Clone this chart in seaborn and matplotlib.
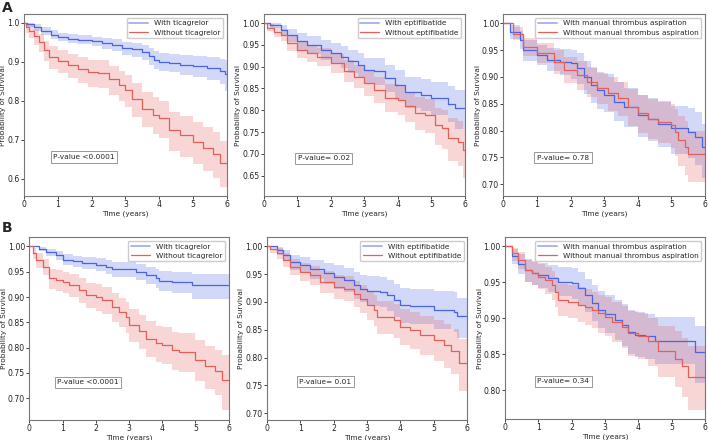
import seaborn as sns
import matplotlib.pyplot as plt
import pandas as pd
from matplotlib.lines import Line2D

# ------------------------------------------------------------ #
# Kaplan-Meier step curves
# each row: time (years), survival, lower CI, upper CI
# ------------------------------------------------------------ #

a1_with = [
    [0.0, 1.000, 1.000, 1.000], [0.1, 0.997, 0.990, 1.000], [0.3, 0.990, 0.980, 0.997],
    [0.5, 0.980, 0.969, 0.990], [0.8, 0.970, 0.959, 0.981], [1.0, 0.964, 0.953, 0.975],
    [1.3, 0.960, 0.948, 0.971], [1.6, 0.957, 0.945, 0.968], [2.0, 0.953, 0.940, 0.965],
    [2.3, 0.948, 0.934, 0.961], [2.6, 0.944, 0.929, 0.958], [2.9, 0.935, 0.918, 0.951],
    [3.2, 0.932, 0.914, 0.949], [3.5, 0.926, 0.906, 0.944], [3.7, 0.915, 0.893, 0.935],
    [3.85, 0.905, 0.882, 0.927], [4.0, 0.901, 0.878, 0.924], [4.3, 0.898, 0.873, 0.921],
    [4.6, 0.893, 0.866, 0.918], [5.0, 0.889, 0.861, 0.915], [5.4, 0.884, 0.853, 0.912],
    [5.8, 0.878, 0.843, 0.908], [5.95, 0.870, 0.825, 0.905], [6.0, 0.870, 0.825, 0.905],
]
a1_without = [
    [0.0, 1.000, 1.000, 1.000], [0.05, 0.990, 0.975, 1.000], [0.15, 0.980, 0.962, 0.995],
    [0.3, 0.966, 0.944, 0.984], [0.45, 0.950, 0.925, 0.972], [0.6, 0.930, 0.902, 0.955],
    [0.75, 0.913, 0.882, 0.940], [1.0, 0.903, 0.871, 0.930], [1.3, 0.892, 0.858, 0.921],
    [1.6, 0.882, 0.846, 0.912], [1.9, 0.874, 0.837, 0.906], [2.2, 0.872, 0.834, 0.904],
    [2.5, 0.856, 0.816, 0.890], [2.8, 0.842, 0.800, 0.878], [3.0, 0.828, 0.785, 0.866],
    [3.2, 0.805, 0.760, 0.845], [3.5, 0.780, 0.733, 0.822], [3.8, 0.765, 0.716, 0.809],
    [4.0, 0.755, 0.705, 0.800], [4.3, 0.725, 0.672, 0.772], [4.6, 0.712, 0.657, 0.761],
    [5.0, 0.695, 0.638, 0.746], [5.3, 0.680, 0.620, 0.733], [5.6, 0.665, 0.603, 0.720],
    [5.8, 0.641, 0.578, 0.698], [6.0, 0.641, 0.578, 0.698],
]
a2_with = [
    [0.0, 1.000, 1.000, 1.000], [0.2, 0.995, 0.988, 1.000], [0.5, 0.985, 0.972, 0.995],
    [0.7, 0.973, 0.957, 0.987], [1.0, 0.958, 0.939, 0.978], [1.3, 0.950, 0.929, 0.970],
    [1.7, 0.939, 0.916, 0.961], [2.0, 0.931, 0.907, 0.954], [2.3, 0.923, 0.898, 0.948],
    [2.5, 0.912, 0.885, 0.939], [2.8, 0.904, 0.876, 0.932], [3.0, 0.892, 0.862, 0.921],
    [3.3, 0.890, 0.859, 0.919], [3.6, 0.874, 0.842, 0.905], [3.9, 0.858, 0.824, 0.892],
    [4.2, 0.841, 0.806, 0.877], [4.7, 0.835, 0.798, 0.872], [5.0, 0.827, 0.789, 0.865],
    [5.5, 0.815, 0.774, 0.856], [5.7, 0.805, 0.758, 0.847], [6.0, 0.805, 0.758, 0.847],
]
a2_without = [
    [0.0, 1.000, 1.000, 1.000], [0.1, 0.990, 0.982, 0.998], [0.3, 0.980, 0.969, 0.991],
    [0.5, 0.973, 0.958, 0.986], [0.7, 0.954, 0.937, 0.970], [1.0, 0.939, 0.920, 0.956],
    [1.3, 0.931, 0.911, 0.949], [1.6, 0.923, 0.901, 0.943], [2.0, 0.908, 0.885, 0.930],
    [2.4, 0.891, 0.866, 0.915], [2.7, 0.877, 0.850, 0.903], [3.0, 0.862, 0.833, 0.890],
    [3.3, 0.847, 0.816, 0.877], [3.6, 0.828, 0.795, 0.860], [4.0, 0.824, 0.789, 0.856],
    [4.2, 0.809, 0.772, 0.843], [4.5, 0.793, 0.754, 0.830], [4.8, 0.789, 0.748, 0.826],
    [5.1, 0.766, 0.720, 0.806], [5.3, 0.759, 0.710, 0.801], [5.5, 0.736, 0.684, 0.782],
    [5.8, 0.728, 0.672, 0.775], [5.95, 0.709, 0.645, 0.756], [6.0, 0.709, 0.645, 0.756],
]
a3_with = [
    [0.0, 1.000, 1.000, 1.000], [0.2, 0.984, 0.970, 0.996], [0.5, 0.969, 0.952, 0.985],
    [0.6, 0.950, 0.930, 0.969], [1.0, 0.941, 0.922, 0.960], [1.3, 0.932, 0.910, 0.953],
    [1.7, 0.928, 0.903, 0.951], [2.0, 0.925, 0.896, 0.950], [2.2, 0.916, 0.886, 0.944],
    [2.4, 0.900, 0.868, 0.930], [2.6, 0.885, 0.851, 0.917], [2.8, 0.875, 0.840, 0.909],
    [3.0, 0.866, 0.834, 0.905], [3.3, 0.854, 0.818, 0.890], [3.6, 0.844, 0.806, 0.880],
    [4.0, 0.828, 0.788, 0.866], [4.3, 0.822, 0.780, 0.861], [4.6, 0.813, 0.769, 0.855],
    [5.0, 0.804, 0.757, 0.846], [5.5, 0.798, 0.748, 0.842], [5.7, 0.788, 0.735, 0.835],
    [5.9, 0.770, 0.712, 0.813], [6.0, 0.770, 0.712, 0.813],
]
a3_without = [
    [0.0, 1.000, 1.000, 1.000], [0.3, 0.980, 0.968, 0.992], [0.6, 0.956, 0.938, 0.973],
    [1.0, 0.944, 0.925, 0.963], [1.5, 0.928, 0.905, 0.950], [1.8, 0.913, 0.888, 0.937],
    [2.2, 0.903, 0.876, 0.929], [2.5, 0.891, 0.862, 0.918], [2.8, 0.879, 0.849, 0.908],
    [3.1, 0.869, 0.837, 0.899], [3.4, 0.860, 0.827, 0.891], [3.7, 0.844, 0.809, 0.877],
    [4.0, 0.832, 0.796, 0.866], [4.3, 0.822, 0.784, 0.858], [4.6, 0.816, 0.776, 0.853],
    [5.0, 0.810, 0.768, 0.849], [5.1, 0.798, 0.752, 0.840], [5.2, 0.782, 0.733, 0.827],
    [5.4, 0.770, 0.717, 0.818], [5.5, 0.756, 0.704, 0.800], [6.0, 0.756, 0.704, 0.800],
]
b1_with = [
    [0.0, 1.000, 1.000, 1.000], [0.3, 0.995, 0.990, 0.999], [0.5, 0.989, 0.982, 0.995],
    [0.8, 0.983, 0.974, 0.991], [1.0, 0.974, 0.964, 0.984], [1.3, 0.971, 0.960, 0.982],
    [1.6, 0.968, 0.956, 0.980], [2.0, 0.964, 0.951, 0.977], [2.3, 0.960, 0.946, 0.974],
    [2.5, 0.955, 0.940, 0.970], [3.2, 0.950, 0.934, 0.966], [3.5, 0.943, 0.925, 0.960],
    [3.8, 0.937, 0.918, 0.955], [3.9, 0.932, 0.912, 0.951], [4.3, 0.929, 0.908, 0.949],
    [4.9, 0.924, 0.896, 0.946], [6.0, 0.924, 0.896, 0.946],
]
b1_without = [
    [0.0, 1.000, 1.000, 1.000], [0.1, 0.986, 0.975, 0.996], [0.2, 0.973, 0.958, 0.986],
    [0.4, 0.960, 0.943, 0.976], [0.6, 0.937, 0.916, 0.956], [0.8, 0.934, 0.912, 0.953],
    [1.0, 0.930, 0.908, 0.950], [1.2, 0.924, 0.901, 0.945], [1.5, 0.914, 0.889, 0.937],
    [1.7, 0.904, 0.878, 0.928], [2.0, 0.900, 0.873, 0.925], [2.2, 0.894, 0.866, 0.920],
    [2.5, 0.881, 0.851, 0.908], [2.7, 0.871, 0.840, 0.899], [2.9, 0.861, 0.829, 0.890],
    [3.0, 0.845, 0.812, 0.876], [3.3, 0.832, 0.798, 0.864], [3.5, 0.818, 0.782, 0.852],
    [3.8, 0.809, 0.772, 0.843], [4.0, 0.805, 0.767, 0.840], [4.3, 0.795, 0.756, 0.831],
    [4.5, 0.792, 0.752, 0.829], [5.0, 0.776, 0.734, 0.815], [5.3, 0.763, 0.719, 0.804],
    [5.6, 0.753, 0.707, 0.796], [5.8, 0.736, 0.676, 0.785], [6.0, 0.736, 0.676, 0.785],
]
b2_with = [
    [0.0, 1.000, 1.000, 1.000], [0.3, 0.993, 0.985, 0.999], [0.5, 0.984, 0.973, 0.994],
    [0.7, 0.972, 0.958, 0.985], [1.0, 0.966, 0.951, 0.981], [1.3, 0.959, 0.942, 0.976],
    [1.7, 0.951, 0.932, 0.970], [2.0, 0.945, 0.924, 0.966], [2.3, 0.939, 0.917, 0.961],
    [2.6, 0.930, 0.906, 0.954], [2.8, 0.924, 0.899, 0.949], [3.0, 0.920, 0.893, 0.947],
    [3.4, 0.918, 0.890, 0.945], [3.6, 0.912, 0.883, 0.940], [3.8, 0.903, 0.873, 0.932],
    [4.0, 0.894, 0.863, 0.925], [4.3, 0.892, 0.860, 0.923], [5.0, 0.886, 0.851, 0.919],
    [5.6, 0.882, 0.846, 0.917], [5.7, 0.874, 0.836, 0.907], [6.0, 0.874, 0.836, 0.907],
]
b2_without = [
    [0.0, 1.000, 1.000, 1.000], [0.1, 0.995, 0.988, 1.000], [0.3, 0.987, 0.977, 0.996],
    [0.5, 0.975, 0.962, 0.987], [0.7, 0.963, 0.948, 0.977], [1.0, 0.954, 0.937, 0.970],
    [1.3, 0.948, 0.930, 0.965], [1.6, 0.936, 0.916, 0.955], [2.0, 0.927, 0.905, 0.948],
    [2.3, 0.924, 0.901, 0.946], [2.6, 0.915, 0.891, 0.938], [2.8, 0.906, 0.880, 0.930],
    [3.0, 0.894, 0.867, 0.920], [3.2, 0.885, 0.857, 0.912], [3.3, 0.873, 0.843, 0.902],
    [3.8, 0.867, 0.836, 0.897], [4.0, 0.855, 0.822, 0.887], [4.3, 0.849, 0.815, 0.882],
    [4.6, 0.840, 0.804, 0.874], [5.0, 0.831, 0.793, 0.867], [5.3, 0.822, 0.782, 0.860],
    [5.5, 0.812, 0.770, 0.852], [5.75, 0.790, 0.740, 0.833], [6.0, 0.790, 0.736, 0.833],
]
b3_with = [
    [0.0, 1.000, 1.000, 1.000], [0.2, 0.986, 0.975, 0.996], [0.4, 0.976, 0.962, 0.989],
    [0.6, 0.967, 0.951, 0.982], [0.8, 0.963, 0.946, 0.979], [1.0, 0.960, 0.942, 0.977],
    [1.3, 0.956, 0.937, 0.974], [1.6, 0.951, 0.931, 0.971], [2.0, 0.949, 0.927, 0.970],
    [2.2, 0.942, 0.919, 0.964], [2.4, 0.932, 0.908, 0.955], [2.6, 0.921, 0.896, 0.946],
    [2.8, 0.912, 0.886, 0.938], [3.0, 0.906, 0.879, 0.933], [3.3, 0.898, 0.870, 0.926],
    [3.5, 0.891, 0.862, 0.920], [3.7, 0.881, 0.851, 0.912], [3.9, 0.877, 0.846, 0.908],
    [4.2, 0.875, 0.843, 0.906], [4.5, 0.869, 0.836, 0.902], [5.7, 0.853, 0.810, 0.889],
    [6.0, 0.853, 0.808, 0.889],
]
b3_without = [
    [0.0, 1.000, 1.000, 1.000], [0.2, 0.990, 0.980, 0.998], [0.4, 0.981, 0.968, 0.992],
    [0.6, 0.967, 0.951, 0.981], [0.8, 0.963, 0.946, 0.978], [1.0, 0.958, 0.940, 0.975],
    [1.2, 0.953, 0.934, 0.971], [1.4, 0.946, 0.926, 0.965], [1.5, 0.937, 0.916, 0.958],
    [1.6, 0.926, 0.903, 0.948], [1.9, 0.923, 0.900, 0.946], [2.2, 0.919, 0.895, 0.943],
    [2.4, 0.916, 0.891, 0.940], [2.6, 0.912, 0.886, 0.937], [2.8, 0.907, 0.880, 0.933],
    [3.0, 0.902, 0.875, 0.929], [3.2, 0.895, 0.867, 0.923], [3.5, 0.888, 0.858, 0.917],
    [3.7, 0.879, 0.848, 0.910], [4.0, 0.875, 0.843, 0.907], [4.3, 0.868, 0.834, 0.901],
    [4.6, 0.854, 0.818, 0.889], [5.1, 0.844, 0.805, 0.882], [5.3, 0.833, 0.791, 0.873],
    [5.5, 0.819, 0.772, 0.862], [6.0, 0.819, 0.772, 0.862],
]

treatments = ["ticagrelor", "eptifibatide", "manual thrombus aspiration",
              "ticagrelor", "eptifibatide", "manual thrombus aspiration"]
p_values = ["P-value <0.0001", "P-value= 0.02", "P-value= 0.78",
            "P-value <0.0001", "P-value= 0.01", "P-value= 0.34"]
curves = [(a1_with, a1_without), (a2_with, a2_without), (a3_with, a3_without),
          (b1_with, b1_without), (b2_with, b2_without), (b3_with, b3_without)]

# layout (axes rects in figure fraction) and y ranges per panel
rects = [
    [0.0339, 0.5545, 0.2867, 0.4136], [0.3725, 0.5545, 0.2843, 0.4136],
    [0.7109, 0.5545, 0.2849, 0.4136], [0.0414, 0.0455, 0.2816, 0.4152],
    [0.3767, 0.0455, 0.2833, 0.4152], [0.7133, 0.0477, 0.2825, 0.4130],
]
ylims = [(0.556, 1.023), (0.603, 1.021), (0.678, 1.017),
         (0.657, 1.018), (0.688, 1.016), (0.760, 1.0125)]
yticks = [[0.6, 0.7, 0.8, 0.9, 1.0],
          [0.65, 0.70, 0.75, 0.80, 0.85, 0.90, 0.95, 1.00],
          [0.70, 0.75, 0.80, 0.85, 0.90, 0.95, 1.00],
          [0.70, 0.75, 0.80, 0.85, 0.90, 0.95, 1.00],
          [0.70, 0.75, 0.80, 0.85, 0.90, 0.95, 1.00],
          [0.80, 0.85, 0.90, 0.95, 1.00]]
pv_pos = [(0.144, 0.214), (0.169, 0.207), (0.166, 0.21),
          (0.140, 0.206), (0.163, 0.21), (0.162, 0.207)]

BLUE = "#4b64e6"
RED = "#e25f5a"
FS = 5.3

sns.set_style("white")
plt.rcParams['font.family'] = ['DejaVu Sans']

fig = plt.figure(figsize=(7.08, 4.40), dpi=100)

for i in range(6):
    ax = fig.add_axes(rects[i])
    for rows, color in zip(curves[i], [BLUE, RED]):
        df = pd.DataFrame(rows, columns=["time", "surv", "lo", "hi"])
        ax.fill_between(df["time"], df["lo"], df["hi"], step="post",
                        color=color, alpha=0.25, linewidth=0)
        sns.lineplot(data=df, x="time", y="surv", ax=ax, color=color,
                     drawstyle="steps-post", linewidth=0.9, estimator=None)
    ax.set_xlim(0, 6)
    ax.set_ylim(*ylims[i])
    ax.set_xticks(range(7))
    ax.set_yticks(yticks[i])
    ax.set_xlabel("Time (years)", fontsize=FS, labelpad=0.5)
    ax.set_ylabel("Probability of Survival", fontsize=FS, labelpad=0.5)
    ax.tick_params(labelsize=FS + 0.3, length=2, width=0.6, pad=1.2,
                   colors="#222222", left=True, bottom=True)
    for sp in ax.spines.values():
        sp.set_linewidth(0.8)
        sp.set_color("#777777")
    handles = [Line2D([], [], color="#a9b5f3", lw=1.4),
               Line2D([], [], color=RED, lw=0.9)]
    ax.legend(handles, ["With " + treatments[i], "Without " + treatments[i]],
              loc="upper right", fontsize=FS, frameon=True, fancybox=True,
              edgecolor="#cccccc", framealpha=1, handlelength=2.6,
              borderpad=0.35, labelspacing=0.4)
    ax.text(pv_pos[i][0], pv_pos[i][1], p_values[i], transform=ax.transAxes,
            fontsize=FS, ha="left", va="center",
            bbox=dict(boxstyle="square,pad=0.35", fc="white", ec="#888888", lw=0.6))

fig.text(0.003, 0.998, "A", fontsize=10, fontweight="bold", va="top", ha="left")
fig.text(0.003, 0.497, "B", fontsize=10, fontweight="bold", va="top", ha="left")

fig.savefig("out.png", dpi=100)
